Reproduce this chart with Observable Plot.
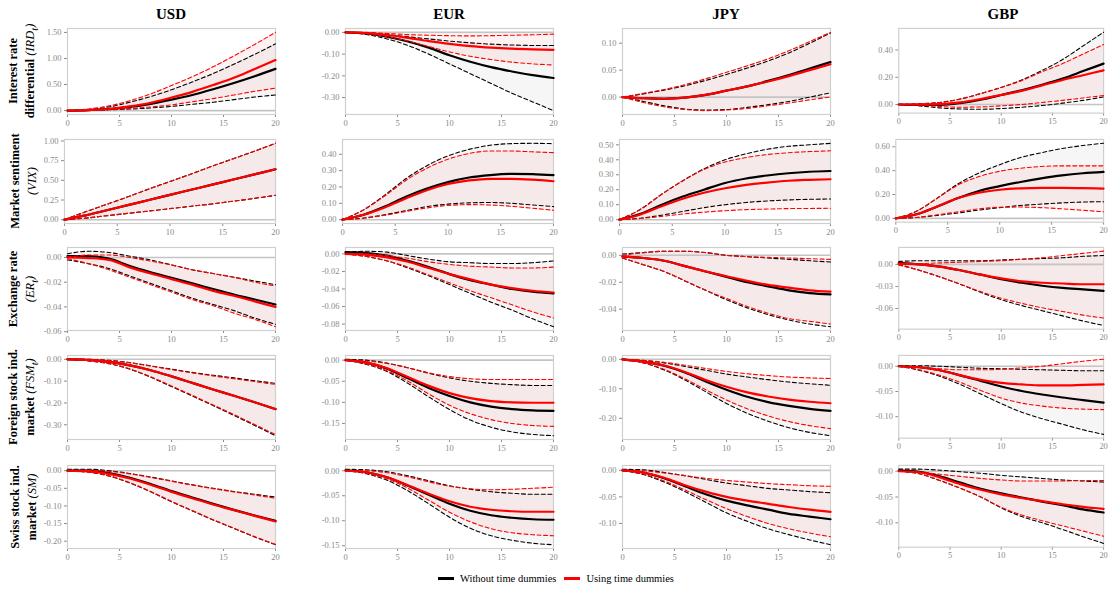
<!DOCTYPE html>
<html><head><meta charset="utf-8">
<script src="https://cdn.jsdelivr.net/npm/d3@7"></script>
<script src="https://cdn.jsdelivr.net/npm/@observablehq/plot@0.6"></script>
<style>
html,body{margin:0;padding:0;background:#fff;}
#fig{position:relative;width:1109px;height:590px;overflow:hidden;font-family:"Liberation Serif","DejaVu Serif",serif;color:#000;}
.panel{position:absolute;}
.title{position:absolute;font-weight:bold;font-size:15px;transform:translate(-50%,-50%);white-space:nowrap;}
.rowlab{position:absolute;font-weight:bold;font-size:12.5px;line-height:17px;text-align:center;white-space:nowrap;transform:translate(-50%,-50%) rotate(-90deg);}
.rowlab i{font-weight:normal;}
.legend{position:absolute;left:438px;top:573px;display:flex;align-items:center;font-size:10.5px;white-space:nowrap;}
.sw{display:inline-block;width:16px;height:3px;margin-right:6px;}
</style></head><body><div id="fig"></div><script>
// horizons (x axis)
const horizon = [0, 2, 4, 6, 8, 10, 12, 14, 16, 18, 20];
const currencies = ["USD", "EUR", "JPY", "GBP"];
const seriesNames = ["Without time dummies", "Using time dummies"];
const seriesColors = ["#000000", "#ff0000"];
const xTicks = [0, 5, 10, 15, 20];
const rowKeys = ["IRD", "VIX", "ER", "FSM", "SM"];
const rowLabelLine1 = ["Interest rate", "Market sentiment", "Exchange rate", "Foreign stock ind.", "Swiss stock ind."];
const rowLabelLine2 = ["differential ", "", "", "market ", "market "];
const rowLabelMath = ["(IRD<sub>t</sub>)", "(VIX)", "(ER<sub>t</sub>)", "(FSM<sub>t</sub>)", "(SM)"];

// each panel: [black median, black lower, black upper, red median, red lower, red upper]
const IRD_USD = [
  [0,0.01,0.03,0.07,0.13,0.21,0.30,0.41,0.53,0.66,0.80],
  [0,0.005,0.015,0.03,0.05,0.08,0.12,0.16,0.21,0.26,0.30],
  [0,0.02,0.07,0.16,0.27,0.40,0.55,0.71,0.89,1.08,1.28],
  [0,0.01,0.03,0.08,0.15,0.25,0.36,0.49,0.63,0.80,0.97],
  [0,0.005,0.02,0.04,0.07,0.11,0.17,0.23,0.30,0.37,0.43],
  [0,0.03,0.09,0.19,0.32,0.48,0.65,0.84,1.05,1.27,1.50]];
const IRD_EUR = [
  [0,-0.005,-0.02,-0.042,-0.07,-0.105,-0.135,-0.16,-0.18,-0.197,-0.21],
  [0,-0.01,-0.03,-0.06,-0.10,-0.145,-0.19,-0.235,-0.28,-0.32,-0.36],
  [0,-0.002,-0.01,-0.02,-0.03,-0.04,-0.048,-0.054,-0.058,-0.06,-0.06],
  [0,-0.003,-0.012,-0.025,-0.04,-0.053,-0.063,-0.07,-0.075,-0.078,-0.08],
  [0,-0.005,-0.02,-0.04,-0.065,-0.09,-0.11,-0.125,-0.137,-0.145,-0.15],
  [0,0,-0.005,-0.01,-0.013,-0.015,-0.016,-0.015,-0.013,-0.011,-0.008]];
const IRD_JPY = [
  [0,-0.002,-0.003,-0.001,0.004,0.012,0.02,0.03,0.041,0.053,0.065],
  [0,-0.008,-0.016,-0.022,-0.024,-0.023,-0.019,-0.014,-0.008,0,0.008],
  [0,0.006,0.013,0.021,0.031,0.042,0.054,0.067,0.082,0.1,0.119],
  [0,-0.002,-0.003,-0.001,0.004,0.012,0.02,0.029,0.039,0.05,0.061],
  [0,-0.01,-0.018,-0.023,-0.025,-0.024,-0.021,-0.016,-0.011,-0.005,0.0],
  [0,0.007,0.014,0.023,0.034,0.046,0.058,0.071,0.086,0.103,0.12]];
const IRD_GBP = [
  [0,-0.003,-0.003,0.01,0.035,0.07,0.105,0.145,0.19,0.245,0.30],
  [0,-0.01,-0.025,-0.033,-0.035,-0.03,-0.02,-0.008,0.01,0.03,0.055],
  [0,0.005,0.015,0.04,0.08,0.125,0.18,0.25,0.33,0.43,0.53],
  [0,0,0.003,0.015,0.04,0.07,0.10,0.14,0.18,0.215,0.25],
  [0,-0.005,-0.015,-0.02,-0.018,-0.01,0.0,0.015,0.03,0.048,0.065],
  [0,0.005,0.015,0.04,0.08,0.125,0.175,0.24,0.30,0.37,0.44]];

const VIX_USD = [
  [0,0.055,0.12,0.185,0.25,0.315,0.38,0.445,0.51,0.575,0.64],
  [0,0.02,0.05,0.08,0.11,0.14,0.17,0.2,0.235,0.27,0.31],
  [0,0.1,0.195,0.29,0.39,0.485,0.58,0.68,0.775,0.87,0.97],
  [0,0.055,0.12,0.185,0.25,0.315,0.38,0.445,0.51,0.575,0.64],
  [0,0.02,0.05,0.08,0.11,0.14,0.17,0.2,0.235,0.27,0.31],
  [0,0.1,0.195,0.29,0.39,0.485,0.58,0.68,0.775,0.87,0.97]];
const VIX_EUR = [
  [0,0.03,0.08,0.14,0.19,0.23,0.258,0.273,0.28,0.278,0.272],
  [0,0.01,0.03,0.055,0.08,0.095,0.103,0.105,0.1,0.09,0.08],
  [0,0.06,0.15,0.25,0.33,0.39,0.43,0.455,0.465,0.467,0.465],
  [0,0.03,0.075,0.13,0.18,0.218,0.24,0.25,0.25,0.245,0.235],
  [0,0.008,0.027,0.05,0.072,0.087,0.092,0.09,0.082,0.07,0.058],
  [0,0.06,0.145,0.24,0.315,0.37,0.405,0.42,0.42,0.415,0.41]];
const VIX_JPY = [
  [0,0.04,0.1,0.155,0.2,0.245,0.275,0.295,0.31,0.32,0.325],
  [0,0.01,0.03,0.055,0.08,0.1,0.115,0.125,0.132,0.136,0.138],
  [0,0.07,0.17,0.26,0.34,0.40,0.44,0.47,0.49,0.50,0.51],
  [0,0.035,0.09,0.14,0.18,0.21,0.232,0.248,0.26,0.266,0.27],
  [0,0.008,0.022,0.038,0.05,0.06,0.067,0.071,0.074,0.075,0.076],
  [0,0.07,0.17,0.26,0.335,0.385,0.415,0.435,0.447,0.455,0.46]];
const VIX_GBP = [
  [0,0.035,0.1,0.17,0.23,0.27,0.305,0.335,0.36,0.378,0.39],
  [0,0.008,0.025,0.045,0.07,0.09,0.108,0.12,0.13,0.137,0.14],
  [0,0.06,0.17,0.29,0.38,0.45,0.51,0.55,0.585,0.61,0.63],
  [0,0.035,0.1,0.17,0.215,0.24,0.252,0.255,0.255,0.253,0.25],
  [0,0.008,0.03,0.055,0.08,0.093,0.095,0.09,0.08,0.068,0.055],
  [0,0.06,0.17,0.28,0.35,0.395,0.42,0.435,0.44,0.44,0.44]];

const ER_USD = [
  [0.001,0.001,-0.001,-0.007,-0.012,-0.0165,-0.021,-0.0255,-0.030,-0.034,-0.038],
  [-0.002,-0.005,-0.009,-0.015,-0.021,-0.027,-0.033,-0.038,-0.043,-0.049,-0.054],
  [0.003,0.005,0.004,0.001,-0.002,-0.006,-0.01,-0.013,-0.016,-0.019,-0.022],
  [0.0,-0.0005,-0.002,-0.008,-0.013,-0.0175,-0.022,-0.027,-0.031,-0.0355,-0.040],
  [-0.001,-0.005,-0.01,-0.016,-0.022,-0.028,-0.034,-0.039,-0.045,-0.05,-0.056],
  [0.0,0.002,0.002,0.0,-0.003,-0.006,-0.01,-0.013,-0.016,-0.02,-0.023]];
const ER_EUR = [
  [0.002,0.001,-0.002,-0.008,-0.015,-0.023,-0.03,-0.035,-0.04,-0.043,-0.045],
  [0.0,-0.003,-0.008,-0.016,-0.025,-0.035,-0.045,-0.055,-0.064,-0.074,-0.083],
  [0.002,0.003,0.002,-0.002,-0.006,-0.009,-0.01,-0.011,-0.011,-0.01,-0.008],
  [0.0,-0.001,-0.004,-0.009,-0.016,-0.023,-0.029,-0.035,-0.039,-0.042,-0.044],
  [0.0,-0.003,-0.008,-0.015,-0.024,-0.033,-0.042,-0.05,-0.058,-0.066,-0.073],
  [0.0,0.0,-0.002,-0.005,-0.009,-0.012,-0.014,-0.015,-0.016,-0.016,-0.015]];
const ER_JPY = [
  [-0.001,-0.002,-0.004,-0.008,-0.012,-0.016,-0.02,-0.023,-0.026,-0.028,-0.029],
  [-0.002,-0.007,-0.012,-0.019,-0.026,-0.033,-0.039,-0.044,-0.048,-0.051,-0.053],
  [0.001,0.002,0.003,0.003,0.002,0.0,-0.001,-0.002,-0.003,-0.004,-0.005],
  [-0.001,-0.002,-0.004,-0.008,-0.012,-0.0155,-0.019,-0.022,-0.024,-0.026,-0.027],
  [-0.002,-0.007,-0.012,-0.019,-0.026,-0.032,-0.038,-0.043,-0.047,-0.049,-0.051],
  [0.0,0.002,0.003,0.003,0.002,0.0,-0.001,-0.0015,-0.002,-0.0025,-0.003]];
const ER_GBP = [
  [0.002,0.0,-0.003,-0.008,-0.014,-0.02,-0.025,-0.029,-0.032,-0.034,-0.036],
  [0.0,-0.008,-0.017,-0.027,-0.038,-0.048,-0.056,-0.063,-0.07,-0.077,-0.083],
  [0.004,0.005,0.005,0.005,0.005,0.006,0.007,0.008,0.009,0.011,0.012],
  [0.001,0.0,-0.003,-0.008,-0.014,-0.019,-0.023,-0.025,-0.026,-0.027,-0.027],
  [-0.001,-0.008,-0.017,-0.027,-0.037,-0.046,-0.053,-0.059,-0.064,-0.069,-0.073],
  [0.0,0.001,0.002,0.003,0.004,0.005,0.007,0.009,0.012,0.015,0.018]];

const FSM_USD = [
  [0.0,-0.003,-0.012,-0.028,-0.05,-0.078,-0.108,-0.138,-0.167,-0.197,-0.228],
  [0.0,-0.007,-0.02,-0.045,-0.082,-0.125,-0.168,-0.212,-0.257,-0.303,-0.35],
  [0.0,0.0,-0.005,-0.015,-0.03,-0.045,-0.06,-0.073,-0.085,-0.098,-0.11],
  [0.0,-0.003,-0.012,-0.028,-0.05,-0.078,-0.108,-0.138,-0.167,-0.197,-0.228],
  [0.0,-0.007,-0.02,-0.044,-0.08,-0.122,-0.165,-0.209,-0.253,-0.299,-0.345],
  [0.0,0.0,-0.006,-0.016,-0.031,-0.047,-0.062,-0.076,-0.089,-0.102,-0.115]];
const FSM_EUR = [
  [0,-0.006,-0.02,-0.043,-0.066,-0.085,-0.1,-0.11,-0.116,-0.119,-0.12],
  [0.0,-0.01,-0.027,-0.055,-0.087,-0.117,-0.142,-0.159,-0.17,-0.176,-0.179],
  [0.002,0.0,-0.007,-0.018,-0.031,-0.042,-0.05,-0.055,-0.058,-0.06,-0.06],
  [0,-0.006,-0.019,-0.04,-0.061,-0.078,-0.09,-0.097,-0.1,-0.101,-0.101],
  [0.0,-0.009,-0.025,-0.05,-0.08,-0.107,-0.127,-0.141,-0.15,-0.155,-0.157],
  [0.0,-0.002,-0.008,-0.018,-0.03,-0.039,-0.044,-0.046,-0.046,-0.046,-0.046]];
const FSM_JPY = [
  [0.0,-0.008,-0.022,-0.045,-0.075,-0.103,-0.127,-0.145,-0.158,-0.168,-0.175],
  [0.0,-0.012,-0.036,-0.07,-0.11,-0.15,-0.183,-0.21,-0.232,-0.248,-0.259],
  [0.0,-0.004,-0.012,-0.024,-0.037,-0.05,-0.06,-0.069,-0.077,-0.083,-0.088],
  [0.0,-0.008,-0.021,-0.043,-0.07,-0.093,-0.112,-0.126,-0.137,-0.144,-0.149],
  [0.0,-0.012,-0.034,-0.066,-0.103,-0.138,-0.168,-0.192,-0.211,-0.225,-0.235],
  [0.0,-0.003,-0.01,-0.02,-0.031,-0.041,-0.049,-0.055,-0.06,-0.063,-0.065]];
const FSM_GBP = [
  [0.0,-0.002,-0.008,-0.018,-0.029,-0.04,-0.049,-0.056,-0.062,-0.067,-0.072],
  [0.0,-0.008,-0.02,-0.036,-0.055,-0.074,-0.091,-0.104,-0.115,-0.126,-0.135],
  [0.001,0.001,0.0,-0.002,-0.004,-0.005,-0.006,-0.007,-0.008,-0.009,-0.009],
  [0.0,-0.002,-0.008,-0.018,-0.027,-0.033,-0.036,-0.038,-0.038,-0.037,-0.036],
  [0.0,-0.007,-0.018,-0.032,-0.048,-0.063,-0.073,-0.079,-0.083,-0.085,-0.086],
  [0.0,-0.002,-0.005,-0.007,-0.007,-0.006,-0.003,0.0,0.005,0.01,0.014]];

const SM_USD = [
  [0.0,0.0,-0.007,-0.02,-0.038,-0.058,-0.076,-0.094,-0.111,-0.127,-0.142],
  [0.0,-0.004,-0.015,-0.035,-0.06,-0.088,-0.114,-0.14,-0.164,-0.188,-0.21],
  [0.004,0.004,0.0,-0.008,-0.018,-0.029,-0.04,-0.05,-0.059,-0.067,-0.075],
  [0.0,-0.002,-0.009,-0.022,-0.04,-0.06,-0.078,-0.096,-0.112,-0.128,-0.144],
  [0.0,-0.004,-0.015,-0.034,-0.059,-0.087,-0.113,-0.139,-0.163,-0.187,-0.209],
  [0.0,0.001,-0.002,-0.009,-0.019,-0.03,-0.041,-0.051,-0.06,-0.069,-0.078]];
const SM_EUR = [
  [0.001,-0.003,-0.013,-0.03,-0.048,-0.066,-0.08,-0.089,-0.094,-0.097,-0.098],
  [0.0,-0.006,-0.019,-0.04,-0.066,-0.093,-0.115,-0.13,-0.139,-0.145,-0.148],
  [0.003,0.002,-0.002,-0.01,-0.02,-0.03,-0.037,-0.042,-0.045,-0.047,-0.047],
  [0,-0.003,-0.013,-0.029,-0.046,-0.061,-0.072,-0.078,-0.081,-0.082,-0.082],
  [0.0,-0.005,-0.016,-0.035,-0.059,-0.083,-0.102,-0.116,-0.124,-0.128,-0.13],
  [0.0,0.0,-0.004,-0.012,-0.022,-0.031,-0.036,-0.038,-0.037,-0.035,-0.033]];
const SM_JPY = [
  [0.0,-0.004,-0.015,-0.03,-0.045,-0.057,-0.066,-0.074,-0.082,-0.087,-0.092],
  [0.0,-0.008,-0.022,-0.04,-0.06,-0.08,-0.096,-0.11,-0.121,-0.131,-0.14],
  [0.002,0.001,-0.004,-0.01,-0.017,-0.024,-0.029,-0.034,-0.037,-0.04,-0.042],
  [0.0,-0.004,-0.014,-0.028,-0.04,-0.05,-0.057,-0.063,-0.069,-0.074,-0.078],
  [0.0,-0.007,-0.02,-0.037,-0.055,-0.072,-0.087,-0.1,-0.11,-0.118,-0.125],
  [0.0,-0.001,-0.005,-0.01,-0.015,-0.019,-0.022,-0.025,-0.027,-0.029,-0.03]];
const SM_GBP = [
  [0.001,-0.001,-0.01,-0.022,-0.034,-0.043,-0.051,-0.059,-0.066,-0.074,-0.08],
  [0.0,-0.005,-0.018,-0.033,-0.05,-0.071,-0.088,-0.1,-0.113,-0.127,-0.14],
  [0.004,0.004,0.002,-0.001,-0.004,-0.008,-0.011,-0.014,-0.017,-0.019,-0.021],
  [0.0,-0.002,-0.012,-0.025,-0.036,-0.045,-0.052,-0.058,-0.064,-0.069,-0.073],
  [0.0,-0.005,-0.018,-0.033,-0.05,-0.07,-0.085,-0.096,-0.106,-0.116,-0.126],
  [0.0,-0.002,-0.006,-0.01,-0.014,-0.017,-0.019,-0.019,-0.019,-0.018,-0.018]];

// y tick values per row (USD, EUR, JPY, GBP)
const ticksIRD = [[0,0.5,1,1.5],[0,-0.1,-0.2,-0.3],[0,0.05,0.1],[0,0.2,0.4]];
const ticksVIX = [[0,0.25,0.5,0.75,1],[0,0.1,0.2,0.3,0.4],[0,0.1,0.2,0.3,0.4,0.5],[0,0.2,0.4,0.6]];
const ticksER  = [[0,-0.02,-0.04,-0.06],[0,-0.02,-0.04,-0.06,-0.08],[0,-0.02,-0.04],[0,-0.03,-0.06]];
const ticksFSM = [[0,-0.1,-0.2,-0.3],[0,-0.05,-0.1,-0.15],[0,-0.1,-0.2],[0,-0.05,-0.1]];
const ticksSM  = [[0,-0.05,-0.1,-0.15,-0.2],[0,-0.05,-0.1,-0.15],[0,-0.05,-0.1],[0,-0.05,-0.1]];

const panelData = {
  IRD: [IRD_USD, IRD_EUR, IRD_JPY, IRD_GBP],
  VIX: [VIX_USD, VIX_EUR, VIX_JPY, VIX_GBP],
  ER:  [ER_USD, ER_EUR, ER_JPY, ER_GBP],
  FSM: [FSM_USD, FSM_EUR, FSM_JPY, FSM_GBP],
  SM:  [SM_USD, SM_EUR, SM_JPY, SM_GBP]
};
const panelTicks = {IRD: ticksIRD, VIX: ticksVIX, ER: ticksER, FSM: ticksFSM, SM: ticksSM};

// layout
const colX0 = [67, 345, 622, 899];
const plotW = 208;
const rowTop = [28, 139, 247, 355, 465];
const rowBot = [114, 223, 330, 439, 548];
const ML = 46, MR = 6, MT = 4, MB = 18;

const fig = document.getElementById("fig");
const fmt = d => (d < -1e-12 ? "-" : "") + Math.abs(d).toFixed(2);

currencies.forEach((cur, c) => {
  const t = document.createElement("div");
  t.className = "title";
  t.textContent = cur;
  t.style.left = (colX0[c] + plotW / 2) + "px";
  t.style.top = "14px";
  fig.appendChild(t);
});

rowKeys.forEach((rk, r) => {
  const lab = document.createElement("div");
  lab.className = "rowlab";
  lab.innerHTML = rowLabelLine1[r] + "<br>" + rowLabelLine2[r] + "<i>" + rowLabelMath[r] + "</i>";
  lab.style.left = "24px";
  lab.style.top = ((rowTop[r] + rowBot[r]) / 2) + "px";
  fig.appendChild(lab);

  currencies.forEach((cur, c) => {
    const arr = panelData[rk][c];
    const recs = [];
    for (let s = 0; s < 2; s++) {
      horizon.forEach((h, i) => recs.push({h, s, med: arr[s*3][i], lo: arr[s*3+1][i], hi: arr[s*3+2][i]}));
    }
    const [mn, mx] = d3.extent(arr.flat().concat([0]));
    const pad = (mx - mn) * 0.05;
    const shift = r === 1 ? 3 : 0;
    const w = plotW + shift;
    const h = rowBot[r] - rowTop[r];
    const curve = "monotone-x";
    const marks = [
      Plot.areaY(recs, {filter: d => d.s === 0, x: "h", y1: "lo", y2: "hi", fill: "#000", fillOpacity: 0.035, curve}),
      Plot.areaY(recs, {filter: d => d.s === 1, x: "h", y1: "lo", y2: "hi", fill: "#ff0000", fillOpacity: 0.05, curve}),
      Plot.ruleY([0], {stroke: "#c4c4c4", strokeWidth: 1.6}),
      Plot.frame({stroke: "#cfcfcf", strokeWidth: 1.2})
    ];
    for (let s = 0; s < 2; s++) {
      const col = seriesColors[s];
      marks.push(
        Plot.lineY(recs, {filter: d => d.s === s, x: "h", y: "lo", stroke: col, strokeWidth: 1.1, strokeDasharray: "4,2.6", curve}),
        Plot.lineY(recs, {filter: d => d.s === s, x: "h", y: "hi", stroke: col, strokeWidth: 1.1, strokeDasharray: "4,2.6", curve}),
        Plot.lineY(recs, {filter: d => d.s === s, x: "h", y: "med", stroke: col, strokeWidth: 2.2, curve})
      );
    }
    const chart = Plot.plot({
      width: ML + w + MR,
      height: MT + h + MB,
      marginLeft: ML, marginRight: MR, marginTop: MT, marginBottom: MB,
      style: {fontFamily: "'Liberation Serif', serif", fontSize: "8.5px", color: "#8a8a8a", background: "transparent", overflow: "visible"},
      x: {domain: [0, 20], ticks: xTicks, tickSize: 3, tickPadding: 2, label: null},
      y: {domain: [mn - pad, mx + pad], ticks: panelTicks[rk][c], tickFormat: fmt, tickSize: 3, tickPadding: 3, label: null},
      marks
    });
    const div = document.createElement("div");
    div.className = "panel";
    div.style.left = (colX0[c] - shift - ML) + "px";
    div.style.top = (rowTop[r] - MT) + "px";
    div.appendChild(chart);
    fig.appendChild(div);
  });
});

// legend
const leg = document.createElement("div");
leg.className = "legend";
seriesNames.forEach((name, s) => {
  const item = document.createElement("span");
  item.style.display = "inline-flex";
  item.style.alignItems = "center";
  item.style.marginRight = s === 0 ? "8px" : "0";
  item.innerHTML = `<span class="sw" style="background:${seriesColors[s]}"></span>${name}`;
  leg.appendChild(item);
});
fig.appendChild(leg);
</script></body></html>
